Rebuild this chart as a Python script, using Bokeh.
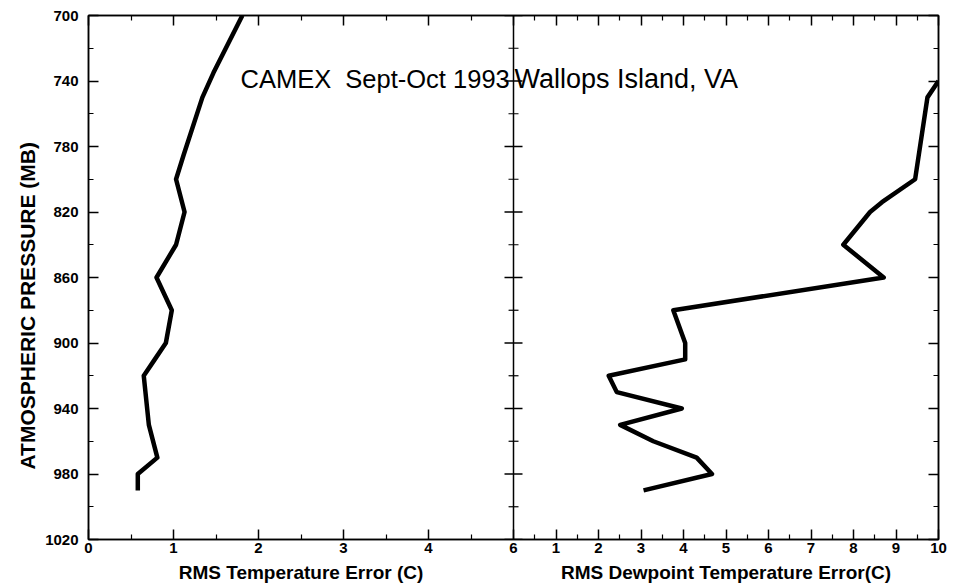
from bokeh.plotting import figure
from bokeh.layouts import column
from bokeh.models import Range1d, LinearAxis, FixedTicker, CustomJSTickFormatter, Label, Span, Title
from bokeh.embed import file_html
from bokeh.resources import INLINE
from bokeh.core.properties import value

# ---- data ----
pressure_t = [700, 735, 750, 785, 800, 820, 840, 860, 880, 900, 910, 920, 950, 970, 980, 990]
temp_err = [1.81, 1.47, 1.34, 1.12, 1.03, 1.13, 1.03, 0.80, 0.98, 0.91, 0.78, 0.65, 0.71, 0.81, 0.58, 0.58]

pressure_d = [740, 750, 800, 814, 820, 840, 860, 880, 900, 910, 920, 930, 940, 950, 960, 970, 980, 990]
dew_err = [10.0, 9.74, 9.45, 8.67, 8.39, 7.76, 8.71, 3.76, 4.04, 4.04, 2.24, 2.43, 3.96, 2.51, 3.29, 4.31, 4.67, 3.06]

temp_lim = (0, 5)
dew_lim = (0, 10)
p_lim = (1020, 700)

temp_ticks = [0, 1, 2, 3, 4, 5]
temp_tick_labels = ["0", "1", "2", "3", "4", "6"]
temp_minor = [0.5, 1.5, 2.5, 3.5, 4.5]
dew_ticks = [1, 2, 3, 4, 5, 6, 7, 8, 9, 10]
dew_tick_labels = ["1", "2", "3", "4", "5", "6", "7", "8", "9", "10"]
dew_minor = [0.5, 1.5, 2.5, 3.5, 4.5, 5.5, 6.5, 7.5, 8.5, 9.5]
p_ticks = [700, 740, 780, 820, 860, 900, 940, 980, 1020]
p_minor = [720, 760, 800, 840, 880, 920, 960, 1000]

title_left = "CAMEX\u00a0\u00a0Sept-Oct 1993"
title_right = "Wallops Island, VA"
xlabel_t = "RMS Temperature Error (C)"
xlabel_d = "RMS Dewpoint Temperature Error(C)"
ylabel = "ATMOSPHERIC PRESSURE (MB)"

FONT = "Liberation Sans"

# left panel uses the main range (left half), right panel an extra range (right half)
t_span = temp_lim[1] - temp_lim[0]
d_span = dew_lim[1] - dew_lim[0]
main_range = Range1d(temp_lim[0], temp_lim[1] + t_span)
dew_range = Range1d(dew_lim[0] - d_span, dew_lim[1])


def dew_to_main(d):
    return temp_lim[1] + (d - dew_lim[0]) * t_span / d_span


W = 951
p = figure(width=W, height=561, x_range=main_range, y_range=Range1d(*p_lim),
           x_axis_type=None, y_axis_type=None,
           output_backend="svg", toolbar_location=None,
           min_border_left=88, min_border_right=13, min_border_top=15, min_border_bottom=22)
p.extra_x_ranges = {"dew": dew_range}
p.background_fill_color = "white"
p.border_fill_color = "white"
p.outline_line_color = "black"
p.outline_line_width = 1.5

x_pos = temp_ticks + [dew_to_main(d) for d in dew_ticks]
x_lab = temp_tick_labels + dew_tick_labels
x_minor = temp_minor + [dew_to_main(d) for d in dew_minor]
x_ticker = FixedTicker(ticks=x_pos, minor_ticks=x_minor)
y_ticker = FixedTicker(ticks=p_ticks, minor_ticks=p_minor)

x_fmt = CustomJSTickFormatter(args=dict(pos=x_pos, lab=x_lab), code="""
for (let i = 0; i < pos.length; i++) { if (Math.abs(pos[i] - tick) < 1e-6) return lab[i]; }
return '';
""")
empty_fmt = CustomJSTickFormatter(code="return '';")


def style(ax):
    ax.axis_line_width = 1.5
    ax.axis_line_color = "black"
    ax.major_tick_in = 10
    ax.major_tick_out = 0
    ax.minor_tick_in = 5
    ax.minor_tick_out = 0
    ax.major_tick_line_width = 1.5
    ax.minor_tick_line_width = 1.2
    ax.major_tick_line_color = "black"
    ax.minor_tick_line_color = "black"
    ax.major_label_text_font = FONT
    ax.major_label_text_font_style = "bold"
    ax.major_label_text_font_size = "15px"
    ax.major_label_text_color = "black"


bottom = LinearAxis(ticker=x_ticker, formatter=x_fmt)
style(bottom)
bottom.major_label_standoff = 3
p.add_layout(bottom, "below")

top = LinearAxis(ticker=x_ticker, formatter=empty_fmt)
style(top)
top.major_label_text_font_size = "1px"
top.major_label_standoff = 0
p.add_layout(top, "above")

left = LinearAxis(ticker=y_ticker)
style(left)
left.major_label_standoff = 10
p.add_layout(left, "left")

p.add_layout(Title(text=ylabel, align="left", offset=70, standoff=8,
                   text_font=FONT, text_font_style="bold", text_font_size="21px",
                   text_color="black"), "left")

right = LinearAxis(ticker=y_ticker, formatter=empty_fmt)
style(right)
right.major_label_text_font_size = "1px"
right.major_label_standoff = 0
p.add_layout(right, "right")

# divider between the two panels, with cross ticks
p.add_layout(Span(location=temp_lim[1], dimension="height", line_color="black", line_width=1.5))
p.scatter(x=[temp_lim[1]] * len(p_ticks), y=p_ticks, marker="dash", size=18,
          line_color="black", line_width=1.5)
p.scatter(x=[temp_lim[1]] * len(p_minor), y=p_minor, marker="dash", size=10,
          line_color="black", line_width=1.2)

# data curves
p.line(temp_err, pressure_t, line_color="black", line_width=4.5, line_join="round")
p.line(dew_err, pressure_d, line_color="black", line_width=4.5, line_join="round", x_range_name="dew")

# chart title inside the frame (two pieces, as in the original)
p.add_layout(Label(x=1.788, y=738.5, text=title_left, text_font=FONT, text_font_size="25.5px",
                   text_color="black", text_baseline="alphabetic", text_align="left"))
p.add_layout(Label(x=dew_lim[0], y=738.5, x_range_name="dew", x_offset=1, text=title_right,
                   text_font=FONT, text_font_size="27px",
                   text_color="black", text_baseline="alphabetic", text_align="left"))

# strip holding the two x-axis titles
p2 = figure(width=W, height=27, x_range=main_range, y_range=Range1d(0, 1),
            x_axis_type=None, y_axis_type=None,
            output_backend="svg", toolbar_location=None,
            min_border_left=88, min_border_right=13, min_border_top=0, min_border_bottom=0)
p2.extra_x_ranges = {"dew": dew_range}
p2.outline_line_color = None
p2.background_fill_color = "white"
p2.border_fill_color = "white"
p2.text(x=[(temp_lim[0] + temp_lim[1]) / 2], y=[0.6], text=[xlabel_t], text_font=value(FONT),
        text_font_style="bold", text_font_size="19px", text_color="black",
        text_align="center", text_baseline="middle")
p2.text(x=[(dew_lim[0] + dew_lim[1]) / 2], y=[0.6], text=[xlabel_d], text_font=value(FONT),
        text_font_style="bold", text_font_size="19px", text_color="black",
        text_align="center", text_baseline="middle", x_range_name="dew")

layout = column(p, p2, spacing=0)
open("out.html", "w").write(file_html(layout, INLINE))
